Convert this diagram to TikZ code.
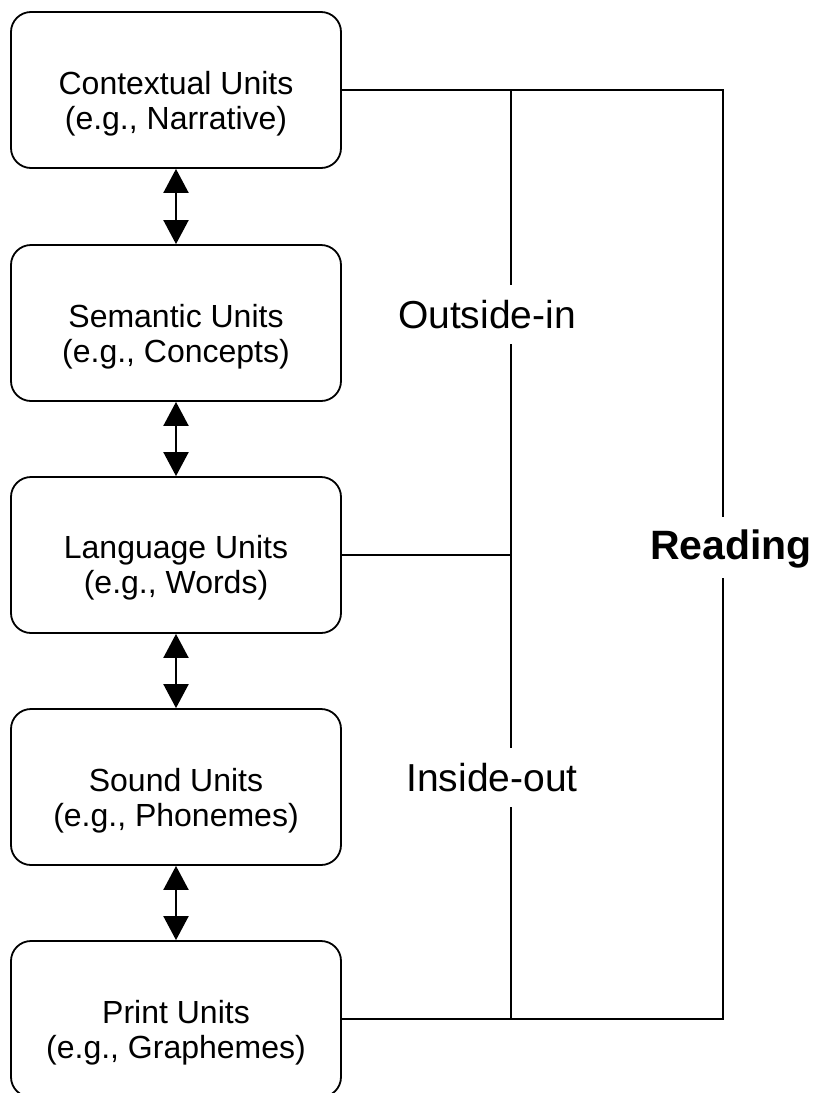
\documentclass[tikz,border=0pt]{standalone}
\usepackage{fontspec}
\setmainfont{Liberation Sans}
\usetikzlibrary{arrows.meta}
\begin{document}
\begin{tikzpicture}[x=1pt,y=-1pt,
  unitbox/.style={draw, line width=1.8pt, rounded corners=20pt, minimum width=330pt, minimum height=156pt, inner sep=0pt},
  unittext/.style={align=center, font=\fontsize{32}{35}\selectfont, inner sep=0pt},
  link/.style={line width=1.8pt},
  biarrow/.style={line width=2pt, {Triangle[width=25pt,length=24pt]}-{Triangle[width=25pt,length=24pt]}},
  lbl/.style={fill=white, font=\fontsize{39}{39}\selectfont, inner xsep=2pt, inner ysep=15pt, text height=29pt, text depth=0pt},
  lblbold/.style={fill=white, font=\bfseries\fontsize{41}{41}\selectfont, inner xsep=0pt, inner ysep=14pt, text height=29pt, text depth=4pt},
]
\useasboundingbox (0,0) rectangle (814,1093);

\node[unitbox] (b1) at (176,90) {};
\node[unitbox] (b2) at (176,323) {};
\node[unitbox] (b3) at (176,555) {};
\node[unitbox] (b4) at (176,787) {};
\node[unitbox] (b5) at (176,1019) {};

\node[unittext] (t1) at (176,104) {Contextual Units\\(e.g., Narrative)};
\node[unittext] (t2) at (176,337) {Semantic Units\\(e.g., Concepts)};
\node[unittext] (t3) at (176,568) {Language Units\\(e.g., Words)};
\node[unittext] (t4) at (176,801) {Sound Units\\(e.g., Phonemes)};
\node[unittext] (t5) at (176,1033) {Print Units\\(e.g., Graphemes)};

\draw[biarrow] (b1.south) -- (b2.north);
\draw[biarrow] (b2.south) -- (b3.north);
\draw[biarrow] (b3.south) -- (b4.north);
\draw[biarrow] (b4.south) -- (b5.north);

\coordinate (tm) at (511,90);
\coordinate (tr) at (723,90);
\coordinate (mm) at (511,555);
\coordinate (bm) at (511,1019);
\coordinate (br) at (723,1019);

\draw[link] (b1.east) -- (tr) -- (br) -- (b5.east);
\draw[link] (tm) -- (bm);
\draw[link] (b3.east) -- (mm);

\node[lbl] (oi) at (487,314) {Outside-in};
\node[lbl] (io) at (492,777) {Inside-out};
\node[lblbold] (rd) at (731,547) {Reading};
\end{tikzpicture}
\end{document}
